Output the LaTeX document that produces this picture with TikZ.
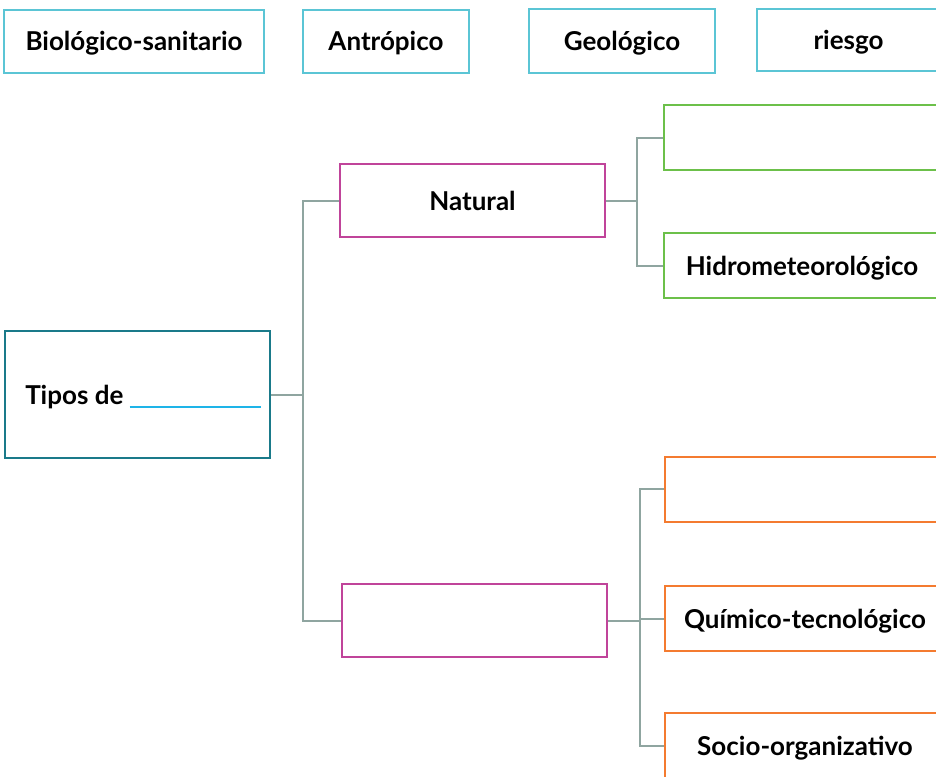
\documentclass[tikz,border=0pt]{standalone}
\usepackage{fontspec}
\setmainfont{Lato}
\usepackage{tikz}
\usetikzlibrary{positioning}
\definecolor{ccyan}{RGB}{91,197,213}
\definecolor{cteal}{RGB}{26,122,138}
\definecolor{cmagenta}{RGB}{192,68,154}
\definecolor{cgreen}{RGB}{108,192,74}
\definecolor{corange}{RGB}{244,123,48}
\definecolor{cgrey}{RGB}{143,165,160}
\definecolor{cblue}{RGB}{30,180,232}

\begin{document}
\begin{tikzpicture}[x=1pt,y=-1pt,line width=2pt,
  box/.style={rectangle,draw,fill=white,inner sep=0pt,text height=19pt,text depth=0pt,
    font=\fontsize{26}{30}\selectfont\bfseries},
  word node/.style={box,draw=ccyan,minimum height=63pt},
  root node/.style={box,draw=cteal,minimum width=265pt,minimum height=127pt},
  type node/.style={box,draw=cmagenta,minimum width=265pt,minimum height=73pt},
  nat node/.style={box,draw=cgreen,minimum width=276pt,minimum height=65pt},
  hum node/.style={box,draw=corange,minimum width=280pt,minimum height=65pt},
  conn/.style={draw=cgrey,line width=2pt}]
  \useasboundingbox (0,0) rectangle (936,776);
  \clip (0,0) rectangle (936,776);
  % palabras
  \node[word node,minimum width=260pt] (bio) at (134,41.5) {Biológico-sanitario};
  \node[word node,minimum width=166pt] (antro) at (386,41.5) {Antrópico};
  \node[word node,minimum width=186pt] (geo) at (622,41) {Geológico};
  \node[word node,minimum width=183pt,minimum height=62pt] (riesgo) at (848.5,40) {riesgo};
  % arbol
  \node[root node] (tipos) at (137.5,394.5)
    {\hspace*{11pt}Tipos de {\color{cblue}\rule[-4pt]{131pt}{2pt}}};
  \node[type node] (natural) at (472.5,200.5) {Natural};
  \node[type node] (humano) at (474.5,620.5) {};
  \node[nat node] (nat1) at (802,137.5) {};
  \node[nat node] (hidro) at (802,265.5) {Hidrometeorológico};
  \node[hum node] (hum1) at (805,489) {};
  \node[hum node] (quimico) at (805,618.5) {Químico-tecnológico};
  \node[hum node] (socio) at (805,745.5) {Socio-organizativo};

  \coordinate (t1) at (303,394.5);
  \coordinate (t2) at (637,200.5);
  \coordinate (t3) at (640,620.5);
  \path[conn]
    (tipos.east) -- (t1)
    (t1) |- (natural.west)
    (t1) |- (humano.west)
    (natural.east) -- (t2)
    (t2) |- (nat1.west)
    (t2) |- (hidro.west)
    (humano.east) -- (t3)
    (t3) |- (hum1.west)
    (t3) |- (quimico.west)
    (t3) |- (socio.west);
\end{tikzpicture}
\end{document}
